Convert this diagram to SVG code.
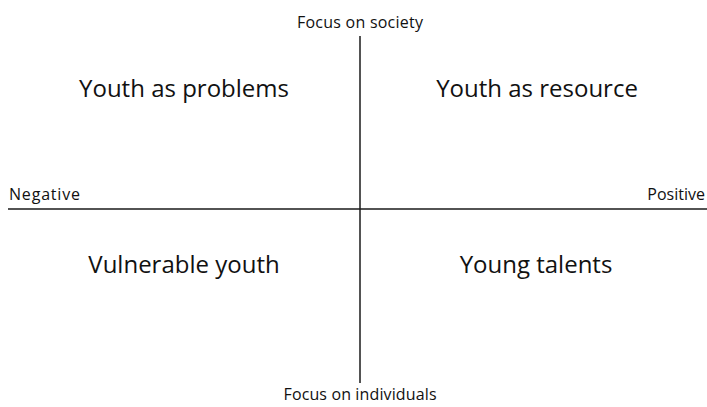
<svg xmlns="http://www.w3.org/2000/svg" width="707" height="407" viewBox="0 0 707 407">
<style>
.ax{stroke:#1a1a1a;stroke-width:1.5;fill:none}
.sm{font-family:"Open Sans","Liberation Sans",sans-serif;font-size:16px;fill:#111}
.lg{font-family:"Open Sans","Liberation Sans",sans-serif;font-size:24px;fill:#111;text-anchor:middle}
</style>
<rect width="707" height="407" fill="#fff"/>
<g id="connectors">
<line class="ax" x1="360" y1="36" x2="360" y2="383"/>
<line class="ax" x1="8" y1="209" x2="707" y2="209"/>
</g>
<g id="axis-labels">
<text class="sm" x="360" y="28" text-anchor="middle" textLength="126">Focus on society</text>
<text class="sm" x="360" y="400" text-anchor="middle" textLength="153">Focus on individuals</text>
<text class="sm" x="9" y="200" textLength="71">Negative</text>
<text class="sm" x="705" y="200" text-anchor="end">Positive</text>
</g>
<g id="q1"><text class="lg" x="184" y="97">Youth as problems</text></g>
<g id="q2"><text class="lg" x="537" y="97">Youth as resource</text></g>
<g id="q3"><text class="lg" x="184" y="273">Vulnerable youth</text></g>
<g id="q4"><text class="lg" x="536" y="273">Young talents</text></g>
</svg>
